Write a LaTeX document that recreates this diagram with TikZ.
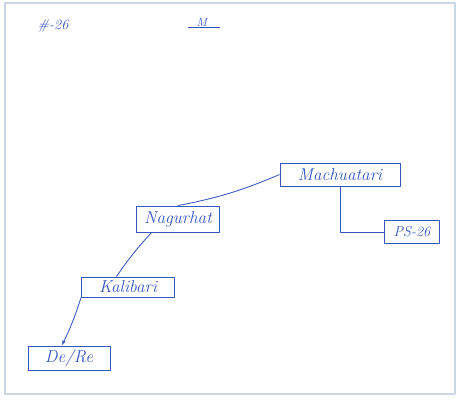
\documentclass[tikz,border=0pt]{standalone}
\usetikzlibrary{arrows.meta}
\definecolor{ink}{HTML}{3556C0}
\definecolor{framecol}{HTML}{C9D6E4}
\begin{document}
\begin{tikzpicture}[x=1bp,y=1bp,>={Latex[length=5bp,width=3.5bp]},line join=bevel,
  place/.style={draw=ink,line width=0.85bp,inner sep=1bp,font=\itshape\LARGE,text=ink},
  note/.style={font=\itshape\large,text=ink},
  link/.style={draw=ink,line width=0.85bp}]
\useasboundingbox (0,0) rectangle (458,400);
  % Frame
  \draw [framecol,line width=1.8bp] (5,6) rectangle (455,397);
  % Node: Title
  \node [note,font=\itshape\Large] (num) at (53,374) {\#-26};
  \node [note] (mark) at (204,377) {\underline{~~M~~~}};
  % Node: Machuatari
  \node [place,minimum width=120bp,minimum height=23bp] (machuatari) at (340,225.5) {Machuatari};
  % Node: Nagurhat
  \node [place,minimum width=83bp,minimum height=26bp] (nagurhat) at (178,181) {Nagurhat};
  % Node: Kalibari
  \node [place,minimum width=93bp,minimum height=20bp] (kalibari) at (128,113) {Kalibari};
  % Node: De/Re
  \node [place,minimum width=82bp,minimum height=24bp] (dere) at (69,42) {De/Re};
  % Node: PS-26
  \node [place,minimum width=55bp,minimum height=23bp,font=\itshape\Large] (ps) at (412,168) {PS-26};
  % Edge: Machuatari -> Nagurhat
  \draw [link] (machuatari.west) to[bend left=6] (nagurhat.north);
  % Edge: Machuatari -> PS-26
  \draw [link] (machuatari.south) |- (ps.west);
  % Edge: Nagurhat -> Kalibari
  \draw [link] (nagurhat.207) to[bend right=4] (kalibari.138);
  % Edge: Kalibari -> De/Re
  \draw [link,->] (kalibari.south west) to[bend left=4] (dere.120);
\end{tikzpicture}
\end{document}
